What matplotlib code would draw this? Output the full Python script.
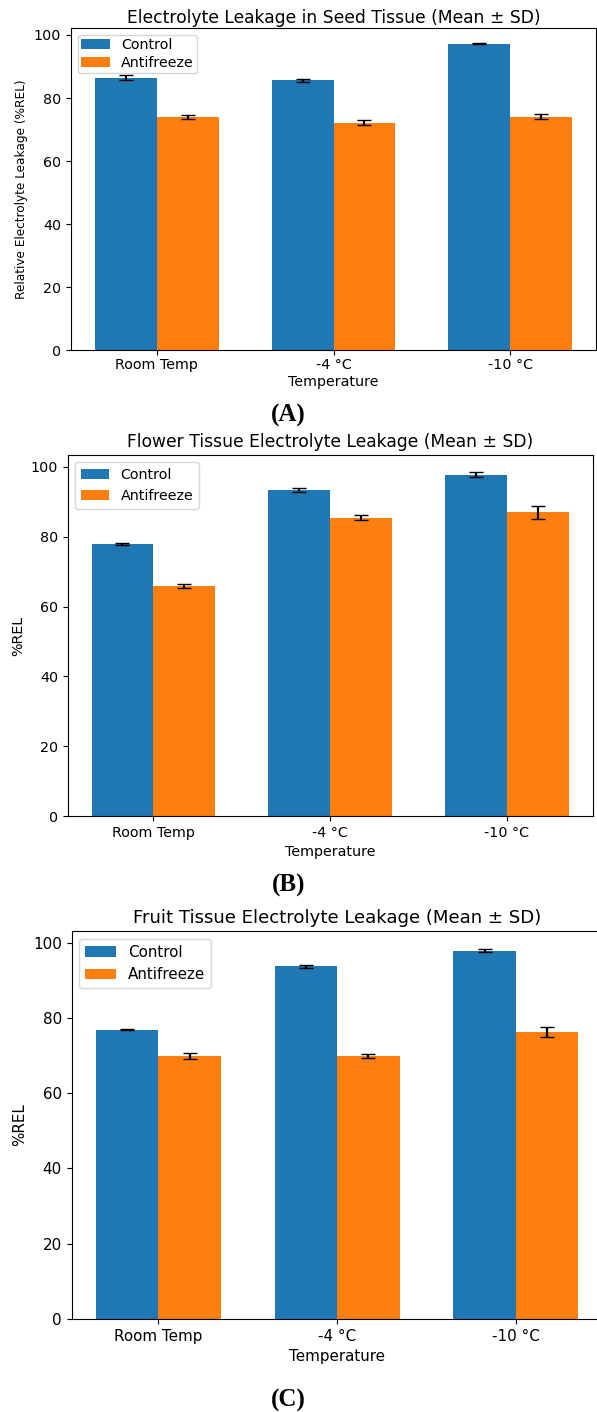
import matplotlib
matplotlib.use("Agg")
import matplotlib.pyplot as plt
import numpy as np

temps = ['Room Temp', '-4 °C', '-10 °C']

seed_control = [86.5, 85.6, 97.2]
seed_control_sd = [0.7, 0.4, 0.15]
seed_anti = [73.9, 72.2, 74.1]
seed_anti_sd = [0.6, 0.8, 0.8]

flower_control = [77.8, 93.5, 97.8]
flower_control_sd = [0.3, 0.6, 0.7]
flower_anti = [65.9, 85.4, 87.0]
flower_anti_sd = [0.6, 0.7, 1.8]

fruit_control = [76.9, 93.7, 97.9]
fruit_control_sd = [0.2, 0.3, 0.3]
fruit_anti = [69.9, 69.9, 76.3]
fruit_anti_sd = [0.7, 0.5, 1.3]

W, H = 597, 1412


def plot_panel(ax, control, control_sd, anti, anti_sd, title, ylabel, s, ylabel_size,
               squeeze=1.0):
    x = np.arange(len(temps))
    width = 0.35
    ax.bar(x - width / 2, control, width, yerr=control_sd, capsize=5,
           label='Control', color='#1f77b4', error_kw={'elinewidth': 1.5 * s})
    ax.bar(x + width / 2, anti, width, yerr=anti_sd, capsize=5,
           label='Antifreeze', color='#ff7f0e', error_kw={'elinewidth': 1.5 * s})
    ax.set_xticks(x, temps)
    ax.set_title(title, fontsize=12 * s, pad=6 * squeeze)
    ax.set_xlabel('Temperature', fontsize=10 * s, labelpad=4 * squeeze)
    ax.set_ylabel(ylabel, fontsize=ylabel_size)
    ax.tick_params(axis='both', labelsize=10 * s)
    ax.tick_params(axis='x', pad=3.5 * squeeze)
    ax.legend(loc='upper left', fontsize=10 * s, labelspacing=0.5 * squeeze,
              borderpad=0.4 * squeeze)


fig = plt.figure(figsize=(W / 100, H / 100), dpi=100)

ax_a = fig.add_axes([71 / W, 1 - 350.3 / H, 525 / W, 322.3 / H])
plot_panel(ax_a, seed_control, seed_control_sd, seed_anti, seed_anti_sd,
           'Electrolyte Leakage in Seed Tissue (Mean ± SD)',
           'Relative Electrolyte Leakage (%REL)', 1.03, 8.7, squeeze=0.55)

ax_b = fig.add_axes([67.7 / W, 1 - 816 / H, 525 / W, 361 / H])
plot_panel(ax_b, flower_control, flower_control_sd, flower_anti, flower_anti_sd,
           'Flower Tissue Electrolyte Leakage (Mean ± SD)', '%REL', 1.03, 10.3)

ax_c = fig.add_axes([71.7 / W, 1 - 1319 / H, 530.9 / W, 388 / H])
plot_panel(ax_c, fruit_control, fruit_control_sd, fruit_anti, fruit_anti_sd,
           'Fruit Tissue Electrolyte Leakage (Mean ± SD)', '%REL', 1.09, 10.9)

for label, y in [('(A)', 415), ('(B)', 885), ('(C)', 1400)]:
    fig.text(0.5 - 10 / W, 1 - y / H, label, ha='center', va='center',
             fontsize=18, fontweight='bold', family='Liberation Serif')

fig.savefig('out.png', dpi=100)
